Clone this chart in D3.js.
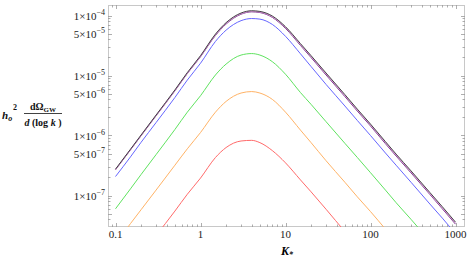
<!DOCTYPE html>
<html>
<head>
<meta charset="utf-8">
<title>GW spectrum</title>
<style>
  body { margin: 0; background: #fff; }
  svg text { font-family: "Liberation Serif", "DejaVu Serif", serif; }
</style>
</head>
<body>
<svg width="471" height="258"></svg>
<script src="https://cdn.jsdelivr.net/npm/d3@7"></script>
<script>
const kValues = [0.1, 0.15, 0.2, 0.3, 0.5, 0.7, 1, 1.5, 2, 3, 4, 5, 7, 10, 15, 20, 30, 50, 70, 100, 150, 200, 300, 500, 700, 1000]

// h^2 dOmega/dlogk for each curve (null = below the frame)
const blackVals  = [2.75e-7, 5.9e-7, 1.02e-6, 2.19e-6, 5.75e-6, 1.12e-5, 2.14e-5, 4.9e-5, 7.6e-5, 1.10e-4, 1.20e-4, 1.17e-4, 9.8e-5, 6.5e-5, 3.4e-5, 2.14e-5, 1.10e-5, 4.8e-6, 2.75e-6, 1.55e-6, 7.9e-7, 4.9e-7, 2.57e-7, 1.12e-7, 6.5e-8, 3.6e-8]
const pinkVals   = [2.7e-7, 5.8e-7, 1.0e-6, 2.15e-6, 5.6e-6, 1.09e-5, 2.08e-5, 4.75e-5, 7.4e-5, 1.07e-4, 1.17e-4, 1.14e-4, 9.5e-5, 6.3e-5, 3.27e-5, 2.06e-5, 1.06e-5, 4.6e-6, 2.64e-6, 1.49e-6, 7.6e-7, 4.7e-7, 2.47e-7, 1.07e-7, 6.2e-8, 3.45e-8]
const purpleVals = [2.68e-7, 5.75e-7, 9.9e-7, 2.13e-6, 5.55e-6, 1.08e-5, 2.05e-5, 4.65e-5, 7.2e-5, 1.05e-4, 1.15e-4, 1.12e-4, 9.3e-5, 6.1e-5, 3.17e-5, 1.99e-5, 1.02e-5, 4.45e-6, 2.55e-6, 1.44e-6, 7.3e-7, 4.55e-7, 2.38e-7, 1.04e-7, 6.0e-8, 3.33e-8]
const blueVals   = [2.07e-7, 4.4e-7, 7.7e-7, 1.64e-6, 4.3e-6, 8.4e-6, 1.60e-5, 3.7e-5, 5.7e-5, 8.2e-5, 8.9e-5, 8.7e-5, 7.1e-5, 4.5e-5, 2.3e-5, 1.41e-5, 7.1e-6, 3.1e-6, 1.78e-6, 1.0e-6, 5.1e-7, 3.2e-7, 1.66e-7, 7.2e-8, 4.2e-8, 2.3e-8]
const greenVals  = [6.0e-8, 1.29e-7, 2.24e-7, 4.8e-7, 1.26e-6, 2.45e-6, 4.6e-6, 1.02e-5, 1.55e-5, 2.19e-5, 2.32e-5, 2.19e-5, 1.70e-5, 1.05e-5, 5.2e-6, 3.3e-6, 1.70e-6, 7.4e-7, 4.3e-7, 2.4e-7, 1.23e-7, 7.6e-8, 4.0e-8, 1.74e-8, null, null]
const orangeVals = [1.58e-8, 3.4e-8, 5.8e-8, 1.23e-7, 3.2e-7, 6.0e-7, 1.12e-6, 2.45e-6, 3.7e-6, 5.1e-6, 5.4e-6, 5.1e-6, 4.0e-6, 2.45e-6, 1.23e-6, 7.6e-7, 3.8e-7, 1.66e-7, 9.5e-8, 5.4e-8, 2.75e-8, 1.7e-8, null, null, null, null]
const redVals    = [null, null, 1.0e-8, 2.14e-8, 5.5e-8, 1.05e-7, 1.95e-7, 4.3e-7, 6.3e-7, 8.1e-7, 8.3e-7, 7.6e-7, 5.6e-7, 3.5e-7, 1.82e-7, 1.15e-7, 5.9e-8, 2.5e-8, 1.45e-8, null, null, null, null, null, null, null]

const xTickLabels = ["0.1", "1", "10", "100", "1000"]
const yTickMajor = [1e-7, 5e-7, 1e-6, 5e-6, 1e-5, 5e-5, 1e-4]

const curves = [
  {vals: redVals, color: "#ff6a6a"},
  {vals: orangeVals, color: "#ffb366"},
  {vals: greenVals, color: "#5fe35f"},
  {vals: blueVals, color: "#6666ff"},
  {vals: purpleVals, color: "#7a3a8a"},
  {vals: pinkVals, color: "#d58ad5"},
  {vals: blackVals, color: "#444"}
]

const svg = d3.select("svg")
const plotL = 108, plotR = 465, plotT = 5, plotB = 227

const x = d3.scaleLog().domain([0.1, 1000]).range([115.5, 455.5])
const y = d3.scaleLog().domain([1e-7, 1e-4]).range([195.5, 15.5])

svg.append("clipPath").attr("id", "clip")
  .append("rect").attr("x", plotL).attr("y", plotT).attr("width", plotR - plotL).attr("height", plotB - plotT)

// frame
svg.append("rect")
  .attr("x", plotL + 0.5).attr("y", plotT + 0.5)
  .attr("width", plotR - plotL - 1).attr("height", plotB - plotT - 1)
  .attr("fill", "none").attr("stroke", "#c8c8c8")

// ticks
const xMinor = []
for (let e = -2; e <= 3; e++) for (let m = 1; m <= 9; m++) {
  const v = m * Math.pow(10, e)
  const px = x(v)
  if (px > plotL + 1 && px < plotR - 1) xMinor.push({v, major: m === 1})
}
const yMinor = []
for (let e = -8; e <= -4; e++) for (let m = 1; m <= 9; m++) {
  const v = m * Math.pow(10, e)
  const py = y(v)
  if (py > plotT + 1 && py < plotB - 1) yMinor.push({v, major: m === 1 || m === 5})
}

const ticks = svg.append("g").attr("stroke", "#999").attr("stroke-width", 0.8)
ticks.selectAll(".xb").data(xMinor).join("line")
  .attr("x1", d => Math.round(x(d.v)) + 0.5).attr("x2", d => Math.round(x(d.v)) + 0.5)
  .attr("y1", plotB).attr("y2", d => plotB - (d.major ? 4 : 2.5))
ticks.selectAll(".xt").data(xMinor).join("line")
  .attr("x1", d => Math.round(x(d.v)) + 0.5).attr("x2", d => Math.round(x(d.v)) + 0.5)
  .attr("y1", plotT).attr("y2", d => plotT + (d.major ? 4 : 2.5))
ticks.selectAll(".yl").data(yMinor).join("line")
  .attr("y1", d => Math.round(y(d.v)) + 0.5).attr("y2", d => Math.round(y(d.v)) + 0.5)
  .attr("x1", plotL).attr("x2", d => plotL + (d.major ? 4 : 2.5))
ticks.selectAll(".yr").data(yMinor).join("line")
  .attr("y1", d => Math.round(y(d.v)) + 0.5).attr("y2", d => Math.round(y(d.v)) + 0.5)
  .attr("x1", plotR).attr("x2", d => plotR - (d.major ? 4 : 2.5))

// x labels
svg.append("g").selectAll("text").data(xTickLabels).join("text")
  .attr("x", d => x(+d)).attr("y", 238)
  .attr("text-anchor", "middle").attr("font-size", 11).attr("fill", "#222")
  .text(d => d)

// y labels
const yl = svg.append("g").selectAll("text").data(yTickMajor).join("text")
  .attr("x", 105).attr("y", d => y(d) + 4)
  .attr("text-anchor", "end").attr("font-size", 11).attr("fill", "#222")
yl.append("tspan").text(d => {
  const e = Math.floor(Math.log10(d) + 1e-9)
  return Math.round(d / Math.pow(10, e)) + "\u00d710"
})
yl.append("tspan").attr("dy", -5).attr("font-size", 8)
  .text(d => "\u2212" + (-Math.floor(Math.log10(d) + 1e-9)))

// x title
const xt = svg.append("text").attr("x", 281).attr("y", 255)
  .attr("font-size", 12).attr("font-weight", "bold").attr("font-style", "italic")
xt.append("tspan").text("K")
xt.append("tspan").attr("dy", 2).attr("font-size", 8).text("*")

// y title
const yt = svg.append("g").attr("font-weight", "bold").attr("fill", "#111")
const h = yt.append("text").attr("x", 2).attr("y", 119).attr("font-size", 11).attr("font-style", "italic")
h.append("tspan").text("h")
h.append("tspan").attr("dy", 2).attr("font-size", 8).text("o")
yt.append("text").attr("x", 13).attr("y", 110).attr("font-size", 8).text("2")
const num = yt.append("text").attr("x", 43).attr("y", 110).attr("text-anchor", "middle").attr("font-size", 10)
num.append("tspan").text("d\u03a9")
num.append("tspan").attr("dy", 2).attr("font-size", 7).text("GW")
yt.append("line").attr("x1", 24).attr("x2", 62).attr("y1", 113.5).attr("y2", 113.5)
  .attr("stroke", "#111").attr("stroke-width", 0.8)
const den = yt.append("text").attr("x", 43).attr("y", 126).attr("text-anchor", "middle").attr("font-size", 10)
den.append("tspan").attr("font-style", "italic").text("d")
den.append("tspan").text(" (log ")
den.append("tspan").attr("font-style", "italic").text("k")
den.append("tspan").text(" )")

// curves
const line = d3.line()
  .defined(d => d[1] != null)
  .curve(d3.curveMonotoneX)
  .x(d => x(d[0]))
  .y(d => y(d[1]))

svg.append("g").attr("clip-path", "url(#clip)").attr("fill", "none")
  .selectAll("path").data(curves).join("path")
  .attr("stroke", d => d.color).attr("stroke-width", 1)
  .attr("d", d => line(kValues.map((k, i) => [k, d.vals[i]])))
</script>
</body>
</html>
